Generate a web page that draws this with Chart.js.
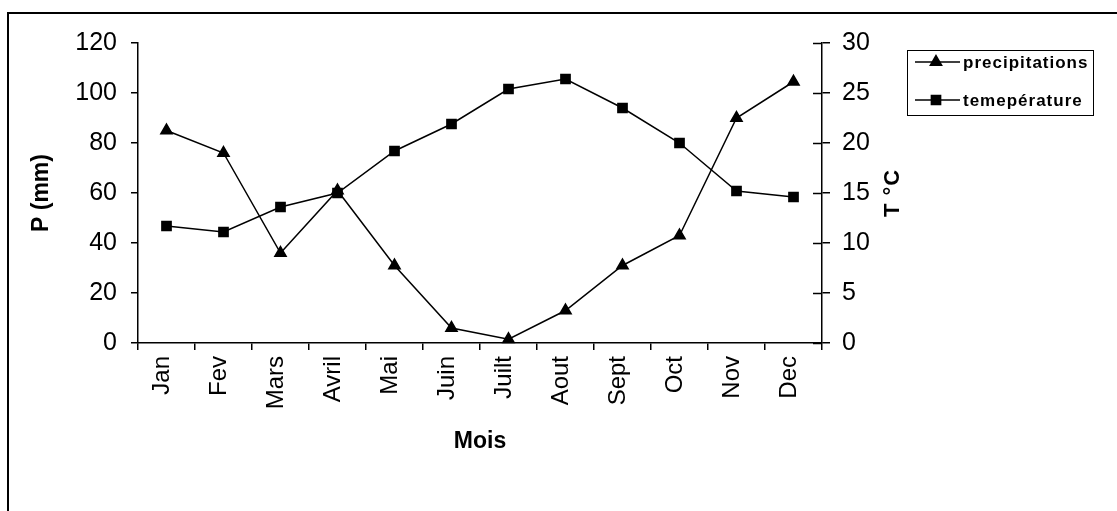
<!DOCTYPE html>
<html>
<head>
<meta charset="utf-8">
<script src="https://cdn.jsdelivr.net/npm/chart.js@4.4.1/dist/chart.umd.min.js"></script>
<style>
  html, body { margin: 0; padding: 0; background: #fff; }
</style>
</head>
<body>
<canvas id="chart" width="1117" height="511"></canvas>
<script>
// values
const months = ["Jan", "Fev", "Mars", "Avril", "Mai", "Juin", "Juilt", "Aout", "Sept", "Oct", "Nov", "Dec"];
const precipitations = [85, 76, 36, 61, 31, 6, 1.5, 13, 31, 43, 90, 104.5];
const temperature = [11.7, 11.1, 13.6, 15.0, 19.2, 21.9, 25.4, 26.4, 23.5, 20.0, 15.2, 14.6];
const seriesNames = ["precipitations", "temepérature"];

const FONT = "'Liberation Sans', Arial, sans-serif";

// frame, inner ticks of right axis, right title and boxed legend
const decor = {
  id: "decor",
  afterDraw(chart) {
    const ctx = chart.ctx;
    const area = chart.chartArea;
    ctx.save();

    // outer frame (only top and left are visible)
    ctx.strokeStyle = "#000";
    ctx.lineWidth = 2;
    ctx.beginPath();
    ctx.moveTo(8, 520);
    ctx.lineTo(8, 13);
    ctx.lineTo(1130, 13);
    ctx.stroke();

    // right axis ticks also cross inward
    const y1 = chart.scales.y1;
    ctx.lineWidth = 1.5;
    ctx.beginPath();
    y1.ticks.forEach(t => {
      const py = Math.round(y1.getPixelForValue(t.value)) + 0.5;
      ctx.moveTo(area.right - 9, py);
      ctx.lineTo(area.right, py);
    });
    ctx.stroke();

    // right title reads bottom to top
    ctx.fillStyle = "#000";
    ctx.font = "bold 22px " + FONT;
    ctx.letterSpacing = "1px";
    ctx.textAlign = "center";
    ctx.textBaseline = "middle";
    ctx.translate(893, (area.top + area.bottom) / 2);
    ctx.rotate(-Math.PI / 2);
    ctx.fillText("T °C", 0, 0);
    ctx.setTransform(1, 0, 0, 1, 0, 0);
    ctx.letterSpacing = "0px";

    // legend
    ctx.lineWidth = 1;
    ctx.strokeRect(907.5, 50.5, 186, 65);
    const rows = [62, 100];
    chart.data.datasets.forEach((ds, i) => {
      const y = rows[i];
      ctx.strokeStyle = "#000";
      ctx.lineWidth = 1.5;
      ctx.beginPath();
      ctx.moveTo(915, y);
      ctx.lineTo(960, y);
      ctx.stroke();
      ctx.fillStyle = "#000";
      Chart.helpers.drawPoint(ctx, {
        pointStyle: ds.pointStyle,
        radius: ds.pointRadius,
        rotation: 0,
        borderWidth: 1
      }, 936, y);
      ctx.font = "bold 17px " + FONT;
      ctx.letterSpacing = "1px";
      ctx.textAlign = "left";
      ctx.textBaseline = "middle";
      ctx.fillText(ds.label, 963, y + 1);
      ctx.letterSpacing = "0px";
    });
    ctx.restore();
  }
};

new Chart(document.getElementById("chart"), {
  type: "line",
  data: {
    labels: months,
    datasets: [
      {
        label: seriesNames[0],
        data: precipitations,
        yAxisID: "y",
        borderColor: "#000",
        backgroundColor: "#000",
        borderWidth: 1.5,
        pointStyle: "triangle",
        pointRadius: 6.5,
        pointBackgroundColor: "#000",
        pointBorderColor: "#000",
        tension: 0,
        clip: false
      },
      {
        label: seriesNames[1],
        data: temperature,
        yAxisID: "y1",
        borderColor: "#000",
        backgroundColor: "#000",
        borderWidth: 1.5,
        pointStyle: "rect",
        pointRadius: 6.5,
        pointBackgroundColor: "#000",
        pointBorderColor: "#000",
        tension: 0,
        clip: false
      }
    ]
  },
  options: {
    responsive: false,
    animation: false,
    events: [],
    layout: { padding: { left: 0, right: 0, top: 43, bottom: 0 } },
    plugins: { legend: { display: false }, tooltip: { enabled: false } },
    scales: {
      x: {
        offset: true,
        afterFit: s => { s.height = 168; },
        grid: { drawOnChartArea: false, offset: true, tickLength: 7, color: "#000", lineWidth: 1.5 },
        border: { color: "#000", width: 1.5 },
        ticks: { color: "#000", font: { family: FONT, size: 24 }, minRotation: 90, maxRotation: 90, padding: 6, autoSkip: false, labelOffset: -4 },
        title: { display: true, text: "Mois", color: "#000", font: { family: FONT, size: 23, weight: "bold" }, padding: { top: 0, bottom: 56 } }
      },
      y: {
        position: "left",
        min: 0,
        max: 120,
        afterFit: s => { s.width = 138; },
        grid: { drawOnChartArea: false, tickLength: 7, color: "#000", lineWidth: 1.5 },
        border: { color: "#000", width: 1.5 },
        ticks: { stepSize: 20, color: "#000", font: { family: FONT, size: 25 }, padding: 14 },
        title: { display: true, text: "P (mm)", color: "#000", font: { family: FONT, size: 23, weight: "bold" }, padding: { top: 28, bottom: 0 } }
      },
      y1: {
        position: "right",
        min: 0,
        max: 30,
        afterFit: s => { s.width = 295; },
        grid: { drawOnChartArea: false, tickLength: 8, color: "#000", lineWidth: 1.5 },
        border: { color: "#000", width: 1.5 },
        ticks: { stepSize: 5, color: "#000", font: { family: FONT, size: 25 }, padding: 12 }
      }
    }
  },
  plugins: [decor]
});
</script>
</body>
</html>
